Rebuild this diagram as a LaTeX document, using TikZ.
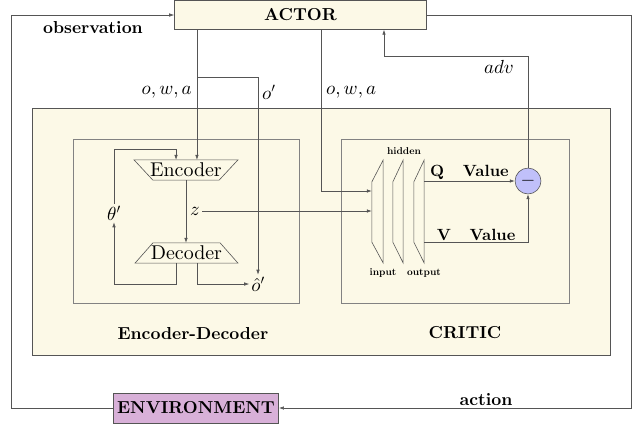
\documentclass[tikz,border=0pt]{standalone}
\usepackage{fix-cm}
\usetikzlibrary{arrows.meta}
\DeclareFontShape{OML}{cmm}{m}{it}{<->cmmi10}{}
\DeclareFontShape{OMS}{cmsy}{m}{n}{<->cmsy10}{}
\DeclareFontShape{OT1}{cmr}{m}{n}{<->cmr10}{}
\font\fbig=cmbx10 at 17.4pt
\font\fenc=cmr10 at 20pt
\font\ftiny=cmbx10 at 10pt
\font\fqv=cmbx10 at 16.3pt
\definecolor{ivory}{RGB}{252,249,231}
\definecolor{envpurple}{RGB}{216,176,216}
\definecolor{minusblue}{RGB}{192,192,250}
\definecolor{ln}{RGB}{85,85,85}
\definecolor{lnlight}{RGB}{130,130,130}
\begin{document}
\begin{tikzpicture}[x=1bp,y=-1bp,
  conn/.style={draw=ln,line width=0.6pt},
  arr/.style={conn,-{Latex[length=5pt,width=3.5pt]}},
  bigl/.style={font=\fbig},
  mathl/.style={font=\fontsize{19}{22}\selectfont,inner sep=2pt},
  tinyl/.style={font=\ftiny},
  qvl/.style={font=\fqv},
  actorbox/.style={draw=ln,fill=ivory,line width=0.6pt,bigl,inner sep=0pt},
  envbox/.style={draw=ln,fill=envpurple,line width=0.6pt,bigl,inner sep=0pt},
  outerbox/.style={draw=ln,fill=ivory,line width=0.6pt,inner sep=0pt},
  innerbox/.style={draw=lnlight,fill=ivory,line width=0.5pt,inner sep=0pt},
  trapnode/.style={font=\fenc,inner sep=0pt,minimum height=20pt},
  trapline/.style={draw=ln,line width=0.6pt},
  layer/.style={inner sep=0pt,minimum height=103pt},
  minusnode/.style={circle,draw=ln,fill=minusblue,line width=0.6pt,minimum size=26pt,inner sep=0pt,font=\fontsize{19}{22}\selectfont}
]
\useasboundingbox (0,0) rectangle (638,424);

% containers
\node[outerbox,minimum width=580pt,minimum height=248pt] (outer) at (321,232) {};
\node[innerbox,minimum width=227pt,minimum height=165pt] (edbox) at (186.5,221.5) {};
\node[innerbox,minimum width=229pt,minimum height=165pt] (crbox) at (455.5,221.5) {};

% main boxes
\node[actorbox,minimum width=253pt,minimum height=29pt] (actor) at (300.5,15) {ACTOR};
\node[envbox,minimum width=166pt,minimum height=30pt] (env) at (196,408) {ENVIRONMENT};

% labels
\node[bigl] (obs) at (93,27) {observation};
\node[bigl] (act) at (486,399) {action};
\node[bigl] (edl) at (193,333) {Encoder-Decoder};
\node[bigl] (crl) at (465,333) {CRITIC};

% encoder / decoder
\node[trapnode,minimum width=104pt] (enc) at (186,170) {Encoder};
\draw[trapline] (enc.north west) -- (enc.north east) -- ([xshift=-19pt]enc.south east) -- ([xshift=19pt]enc.south west) -- cycle;
\node[trapnode,minimum width=103pt] (dec) at (186.5,253) {Decoder};
\draw[trapline] (dec.south west) -- (dec.south east) -- ([xshift=-18pt]dec.north east) -- ([xshift=18pt]dec.north west) -- cycle;

\node[mathl] (z) at (195,211) {$z$};
\node[mathl] (theta) at (114,213) {$\theta'$};
\node[mathl] (ohat) at (258,284) {$\hat{o}'$};

% critic layers
\node[layer,minimum width=11pt] (L1) at (377.5,211.5) {};
\node[layer,minimum width=10pt] (L2) at (398,211.5) {};
\node[layer,minimum width=10pt] (L3) at (419,211.5) {};
\foreach \L in {L1,L2,L3}{
  \draw[trapline] (\L.north east) -- ([yshift=-22pt]\L.north west) -- ([yshift=21pt]\L.south west) -- (\L.south east) -- cycle;
}
\node[tinyl] (hid) at (404,151) {hidden};
\node[tinyl] (inp) at (383,273) {input};
\node[tinyl] (outp) at (424,273) {output};

\node[minusnode] (minus) at (528,181) {$-$};

% text labels on connectors
\node[mathl,anchor=east] (owa1) at (194,92) {$o, w, a$};
\node[mathl,anchor=west] (opr) at (260,92) {$o'$};
\node[mathl,anchor=west] (owa2) at (324,92) {$o, w, a$};
\node[mathl] (advl) at (499,67) {$adv$};

% coordinates
\coordinate (cBL) at (11,408);
\coordinate (cTL) at (11,15);
\coordinate (cTR) at (631,15);
\coordinate (cBR) at (631,408);
\coordinate (encin) at ([xshift=11pt]enc.north);
\coordinate (encl) at ([xshift=-10pt]enc.north);
\coordinate (br) at (197,77);
\coordinate (crin) at (321,191);
\coordinate (tl) at (114,149);
\coordinate (dl) at ([xshift=-10pt]dec.south);
\coordinate (dr) at ([xshift=11pt]dec.south);
\coordinate (lb) at (114,284);
\coordinate (ac) at (384,56);
\coordinate (vv) at ([yshift=-30.5pt]L3.east);

% connectors
\draw[arr] (env.west) -- (cBL) -- (cTL) -- (actor.west);
\draw[arr] (actor.east) -- (cTR) -- (cBR) -- (env.east);
\draw[arr] (actor.south -| encin) -- (encin);
\draw[arr] (br) -| (ohat.north);
\draw[arr] (actor.south -| crin) -- (crin) -- (L1.west |- crin);
\draw[arr] (z) -- (L1.west |- z);
\draw[arr] (enc.south) -- (enc.south |- dec.north);
\draw[arr] (dl) |- (lb) -- (theta.south);
\draw[arr] (theta.north) -- (tl) -| (encl);
\draw[arr] (dr) |- (ohat.west);
\draw[arr] (L3.east |- minus) -- (minus.west) node[midway,above,qvl,inner sep=1pt] {Q\quad Value};
\draw[arr] (vv) -| (minus.south) node[pos=0.25,above,qvl,inner sep=1pt] {V\quad Value};
\draw[arr] (minus.north) |- (ac) -- (actor.south -| ac);
\end{tikzpicture}
\end{document}
